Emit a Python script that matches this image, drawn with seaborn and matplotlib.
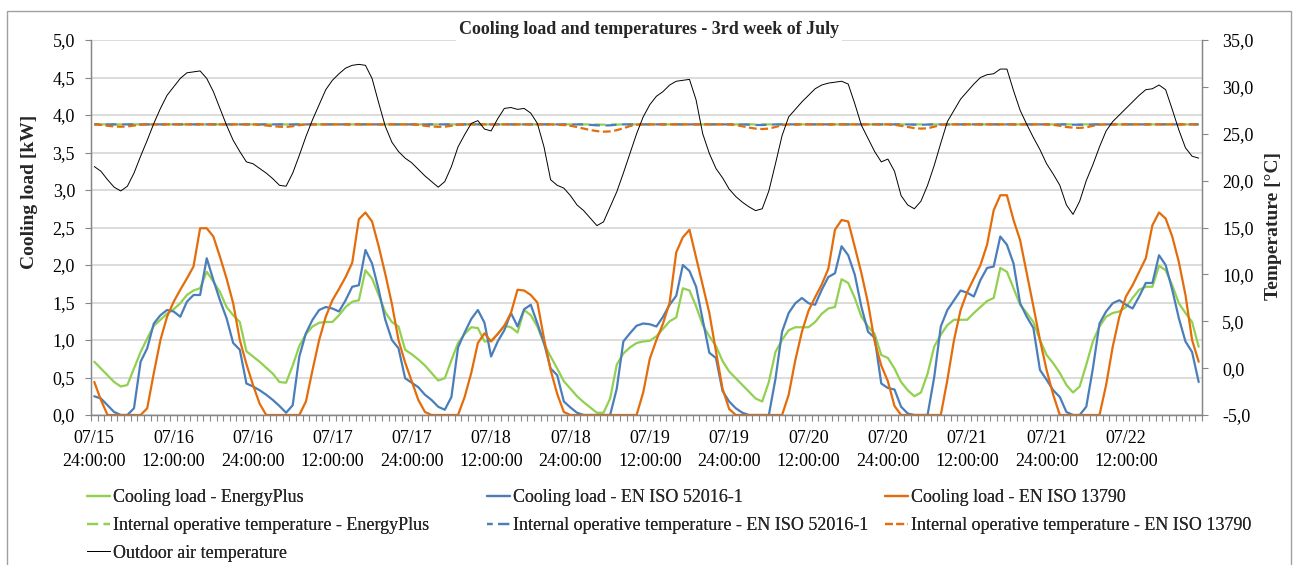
"""
Cooling load and temperatures, 3rd week of July (hourly, 07/15 24:00 .. 07/22 23:00).
Left axis: cooling load [kW], right axis: temperatures [degC].
"""
import matplotlib
matplotlib.use("Agg")
import matplotlib.pyplot as plt
import matplotlib.patches as mpatches
from matplotlib.ticker import FixedLocator, FuncFormatter
import numpy as np
import seaborn as sns

# hour index 0..167, one row of 24 values per day
hours = np.arange(168)

load_eplus = [
    0.71, 0.62, 0.53, 0.44, 0.38, 0.40, 0.62, 0.84, 1.02, 1.19, 1.27, 1.35, 1.41, 1.49, 1.60, 1.66, 1.69, 1.91, 1.78, 1.64, 1.44, 1.33, 1.24, 0.85,
    0.78, 0.71, 0.63, 0.55, 0.44, 0.43, 0.66, 0.92, 1.08, 1.18, 1.23, 1.24, 1.24, 1.33, 1.44, 1.51, 1.53, 1.93, 1.82, 1.60, 1.37, 1.24, 1.18, 0.87,
    0.81, 0.74, 0.66, 0.56, 0.46, 0.49, 0.73, 0.96, 1.08, 1.17, 1.16, 0.98, 0.99, 1.08, 1.19, 1.17, 1.10, 1.40, 1.33, 1.18, 0.95, 0.78, 0.62, 0.45,
    0.35, 0.25, 0.17, 0.10, 0.03, 0.03, 0.22, 0.67, 0.82, 0.90, 0.96, 0.98, 0.99, 1.05, 1.15, 1.25, 1.30, 1.69, 1.66, 1.45, 1.20, 1.05, 0.92, 0.72,
    0.58, 0.49, 0.40, 0.31, 0.22, 0.18, 0.44, 0.84, 1.00, 1.13, 1.17, 1.17, 1.17, 1.24, 1.35, 1.42, 1.44, 1.81, 1.76, 1.56, 1.31, 1.18, 1.08, 0.80,
    0.76, 0.62, 0.44, 0.33, 0.25, 0.30, 0.55, 0.91, 1.07, 1.20, 1.27, 1.27, 1.27, 1.36, 1.44, 1.52, 1.56, 1.96, 1.91, 1.69, 1.47, 1.36, 1.24, 1.00,
    0.80, 0.69, 0.56, 0.40, 0.30, 0.38, 0.67, 0.98, 1.18, 1.31, 1.36, 1.38, 1.44, 1.56, 1.67, 1.71, 1.71, 1.99, 1.93, 1.73, 1.49, 1.36, 1.24, 0.91,
]

load_52016 = [
    0.25, 0.22, 0.13, 0.04, 0.00, 0.00, 0.09, 0.71, 0.89, 1.22, 1.33, 1.40, 1.38, 1.31, 1.51, 1.60, 1.60, 2.09, 1.80, 1.53, 1.29, 0.96, 0.87, 0.42,
    0.38, 0.33, 0.27, 0.20, 0.12, 0.03, 0.13, 0.78, 1.09, 1.27, 1.40, 1.44, 1.42, 1.38, 1.53, 1.71, 1.73, 2.20, 2.02, 1.67, 1.27, 1.00, 0.89, 0.49,
    0.43, 0.37, 0.27, 0.20, 0.11, 0.07, 0.24, 0.90, 1.10, 1.28, 1.40, 1.23, 0.78, 0.98, 1.13, 1.36, 1.18, 1.41, 1.47, 1.22, 0.96, 0.62, 0.53, 0.18,
    0.10, 0.03, 0.00, 0.00, 0.00, 0.00, 0.00, 0.35, 0.98, 1.09, 1.19, 1.22, 1.21, 1.18, 1.31, 1.47, 1.59, 2.00, 1.92, 1.71, 1.27, 0.83, 0.76, 0.32,
    0.18, 0.09, 0.03, 0.00, 0.00, 0.00, 0.00, 0.48, 1.11, 1.36, 1.49, 1.56, 1.49, 1.47, 1.67, 1.84, 1.89, 2.25, 2.13, 1.87, 1.44, 1.11, 1.03, 0.42,
    0.36, 0.34, 0.11, 0.02, 0.00, 0.00, 0.00, 0.50, 1.18, 1.40, 1.53, 1.66, 1.63, 1.58, 1.80, 1.96, 1.98, 2.38, 2.27, 2.02, 1.49, 1.31, 1.16, 0.60,
    0.47, 0.33, 0.24, 0.04, 0.00, 0.00, 0.11, 0.62, 1.22, 1.38, 1.49, 1.53, 1.47, 1.42, 1.58, 1.76, 1.76, 2.13, 2.00, 1.67, 1.29, 0.98, 0.84, 0.44,
]

load_13790 = [
    0.44, 0.20, 0.00, 0.00, 0.00, 0.00, 0.00, 0.00, 0.09, 0.56, 1.00, 1.31, 1.51, 1.67, 1.82, 1.98, 2.49, 2.49, 2.38, 2.11, 1.82, 1.49, 1.00, 0.68,
    0.40, 0.15, 0.00, 0.00, 0.00, 0.00, 0.00, 0.00, 0.18, 0.60, 1.00, 1.31, 1.53, 1.68, 1.84, 2.03, 2.61, 2.70, 2.58, 2.25, 1.88, 1.48, 1.00, 0.70,
    0.45, 0.20, 0.04, 0.00, 0.00, 0.00, 0.00, 0.00, 0.24, 0.56, 0.96, 1.09, 0.98, 1.08, 1.19, 1.36, 1.67, 1.66, 1.60, 1.50, 1.02, 0.60, 0.28, 0.04,
    0.00, 0.00, 0.00, 0.00, 0.00, 0.00, 0.00, 0.00, 0.00, 0.00, 0.00, 0.30, 0.75, 1.00, 1.22, 1.50, 2.17, 2.37, 2.47, 2.10, 1.73, 1.36, 0.85, 0.35,
    0.08, 0.00, 0.00, 0.00, 0.00, 0.00, 0.00, 0.00, 0.00, 0.27, 0.73, 1.11, 1.39, 1.57, 1.74, 1.95, 2.47, 2.60, 2.58, 2.24, 1.89, 1.49, 0.98, 0.66,
    0.45, 0.12, 0.00, 0.00, 0.00, 0.00, 0.00, 0.00, 0.00, 0.47, 1.00, 1.40, 1.64, 1.82, 2.00, 2.27, 2.73, 2.93, 2.93, 2.60, 2.33, 1.89, 1.45, 1.00,
    0.60, 0.27, 0.00, 0.00, 0.00, 0.00, 0.00, 0.00, 0.00, 0.40, 0.91, 1.31, 1.58, 1.73, 1.91, 2.09, 2.53, 2.70, 2.62, 2.38, 2.04, 1.60, 1.00, 0.71,
]

t_op_eplus = [
    26.0, 26.0, 26.0, 26.0, 26.0, 26.0, 26.0, 26.0, 26.0, 26.0, 26.0, 26.0, 26.0, 26.0, 26.0, 26.0, 26.0, 26.0, 26.0, 26.0, 26.0, 26.0, 26.0, 26.0,
    26.0, 26.0, 26.0, 26.0, 26.0, 26.0, 26.0, 26.0, 26.0, 26.0, 26.0, 26.0, 26.0, 26.0, 26.0, 26.0, 26.0, 26.0, 26.0, 26.0, 26.0, 26.0, 26.0, 26.0,
    26.0, 26.0, 26.0, 26.0, 26.0, 26.0, 26.0, 26.0, 26.0, 26.0, 26.0, 26.0, 26.0, 26.0, 26.0, 26.0, 26.0, 26.0, 26.0, 26.0, 26.0, 26.0, 26.0, 26.0,
    26.0, 26.0, 26.0, 26.0, 25.98, 25.97, 25.98, 26.0, 26.0, 26.0, 26.0, 26.0, 26.0, 26.0, 26.0, 26.0, 26.0, 26.0, 26.0, 26.0, 26.0, 26.0, 26.0, 26.0,
    26.0, 26.0, 26.0, 26.0, 26.0, 26.0, 26.0, 26.0, 26.0, 26.0, 26.0, 26.0, 26.0, 26.0, 26.0, 26.0, 26.0, 26.0, 26.0, 26.0, 26.0, 26.0, 26.0, 26.0,
    26.0, 26.0, 26.0, 26.0, 26.0, 26.0, 26.0, 26.0, 26.0, 26.0, 26.0, 26.0, 26.0, 26.0, 26.0, 26.0, 26.0, 26.0, 26.0, 26.0, 26.0, 26.0, 26.0, 26.0,
    26.0, 26.0, 26.0, 26.0, 26.0, 26.0, 26.0, 26.0, 26.0, 26.0, 26.0, 26.0, 26.0, 26.0, 26.0, 26.0, 26.0, 26.0, 26.0, 26.0, 26.0, 26.0, 26.0, 26.0,
]

t_op_52016 = [
    26.0, 26.0, 26.0, 26.0, 26.0, 26.0, 26.0, 26.0, 26.0, 26.0, 26.0, 26.0, 26.0, 26.0, 26.0, 26.0, 26.0, 26.0, 26.0, 26.0, 26.0, 26.0, 26.0, 26.0,
    26.0, 26.0, 26.0, 26.0, 26.0, 26.0, 26.0, 26.0, 26.0, 26.0, 26.0, 26.0, 26.0, 26.0, 26.0, 26.0, 26.0, 26.0, 26.0, 26.0, 26.0, 26.0, 26.0, 26.0,
    26.0, 26.0, 26.0, 26.0, 26.0, 26.0, 26.0, 26.0, 26.0, 26.0, 26.0, 26.0, 26.0, 26.0, 26.0, 26.0, 26.0, 26.0, 26.0, 26.0, 26.0, 26.0, 26.0, 26.0,
    26.0, 26.0, 26.0, 25.95, 25.9, 25.88, 25.9, 25.96, 26.0, 26.0, 26.0, 26.0, 26.0, 26.0, 26.0, 26.0, 26.0, 26.0, 26.0, 26.0, 26.0, 26.0, 26.0, 26.0,
    26.0, 26.0, 26.0, 25.97, 25.94, 25.93, 25.96, 26.0, 26.0, 26.0, 26.0, 26.0, 26.0, 26.0, 26.0, 26.0, 26.0, 26.0, 26.0, 26.0, 26.0, 26.0, 26.0, 26.0,
    26.0, 26.0, 26.0, 26.0, 25.97, 25.96, 25.98, 26.0, 26.0, 26.0, 26.0, 26.0, 26.0, 26.0, 26.0, 26.0, 26.0, 26.0, 26.0, 26.0, 26.0, 26.0, 26.0, 26.0,
    26.0, 26.0, 26.0, 26.0, 25.97, 25.96, 25.98, 26.0, 26.0, 26.0, 26.0, 26.0, 26.0, 26.0, 26.0, 26.0, 26.0, 26.0, 26.0, 26.0, 26.0, 26.0, 26.0, 26.0,
]

t_op_13790 = [
    26.0, 25.95, 25.85, 25.78, 25.75, 25.78, 25.88, 25.97, 26.0, 26.0, 26.0, 26.0, 26.0, 26.0, 26.0, 26.0, 26.0, 26.0, 26.0, 26.0, 26.0, 26.0, 26.0, 26.0,
    26.0, 25.95, 25.88, 25.8, 25.75, 25.73, 25.8, 25.92, 26.0, 26.0, 26.0, 26.0, 26.0, 26.0, 26.0, 26.0, 26.0, 26.0, 26.0, 26.0, 26.0, 26.0, 26.0, 26.0,
    26.0, 25.95, 25.85, 25.78, 25.74, 25.75, 25.85, 25.95, 26.0, 26.0, 26.0, 26.0, 26.0, 26.0, 26.0, 26.0, 26.0, 26.0, 26.0, 26.0, 26.0, 26.0, 25.97, 25.93,
    25.85, 25.72, 25.55, 25.4, 25.28, 25.22, 25.25, 25.38, 25.58, 25.82, 25.97, 26.0, 26.0, 26.0, 26.0, 26.0, 26.0, 26.0, 26.0, 26.0, 26.0, 26.0, 26.0, 26.0,
    26.0, 25.93, 25.8, 25.65, 25.55, 25.5, 25.55, 25.72, 25.92, 26.0, 26.0, 26.0, 26.0, 26.0, 26.0, 26.0, 26.0, 26.0, 26.0, 26.0, 26.0, 26.0, 26.0, 26.0,
    26.0, 25.95, 25.85, 25.72, 25.6, 25.55, 25.58, 25.75, 25.95, 26.0, 26.0, 26.0, 26.0, 26.0, 26.0, 26.0, 26.0, 26.0, 26.0, 26.0, 26.0, 26.0, 26.0, 26.0,
    26.0, 25.95, 25.85, 25.72, 25.65, 25.62, 25.68, 25.85, 25.97, 26.0, 26.0, 26.0, 26.0, 26.0, 26.0, 26.0, 26.0, 26.0, 26.0, 26.0, 26.0, 26.0, 26.0, 26.0,
]

t_outdoor = [
    21.5, 21.0, 20.1, 19.3, 18.9, 19.4, 20.8, 22.6, 24.3, 26.1, 27.7, 29.1, 30.0, 30.9, 31.5, 31.6, 31.7, 30.9, 29.5, 27.7, 25.9, 24.3, 23.1, 22.0,
    21.8, 21.3, 20.8, 20.2, 19.5, 19.4, 20.8, 22.7, 24.7, 26.5, 28.1, 29.7, 30.7, 31.4, 32.0, 32.3, 32.4, 32.3, 30.9, 28.3, 25.8, 24.1, 23.1, 22.4,
    21.9, 21.2, 20.5, 19.9, 19.3, 19.9, 21.5, 23.6, 24.9, 26.1, 26.4, 25.5, 25.3, 26.6, 27.7, 27.8, 27.6, 27.7, 27.2, 26.1, 23.6, 20.1, 19.5, 19.2,
    18.4, 17.4, 16.8, 16.0, 15.2, 15.6, 17.2, 18.8, 20.8, 22.9, 25.0, 26.8, 28.1, 29.0, 29.5, 30.2, 30.6, 30.7, 30.8, 28.6, 25.0, 22.9, 21.3, 20.3,
    19.1, 18.3, 17.7, 17.2, 16.8, 17.0, 18.9, 21.8, 24.8, 26.8, 27.6, 28.4, 29.1, 29.8, 30.2, 30.4, 30.5, 30.6, 30.3, 28.2, 25.9, 24.5, 23.1, 22.0,
    22.3, 21.0, 18.4, 17.4, 17.0, 17.8, 19.5, 21.6, 24.0, 26.3, 27.5, 28.7, 29.5, 30.3, 31.0, 31.3, 31.4, 31.9, 31.9, 29.6, 27.5, 26.0, 24.6, 23.3,
    21.8, 20.7, 19.5, 17.4, 16.4, 17.8, 20.0, 21.7, 23.6, 25.3, 26.3, 27.0, 27.7, 28.4, 29.1, 29.7, 29.8, 30.2, 29.7, 27.6, 25.4, 23.5, 22.6, 22.4,
]

tick_hours = [0, 12, 24, 36, 48, 60, 72, 84, 96, 108, 120, 132, 144, 156]
tick_labels = [
    "07/15\n24:00:00", "07/16\n12:00:00", "07/16\n24:00:00", "07/17\n12:00:00",
    "07/17\n24:00:00", "07/18\n12:00:00", "07/18\n24:00:00", "07/19\n12:00:00",
    "07/19\n24:00:00", "07/20\n12:00:00", "07/20\n24:00:00", "07/21\n12:00:00",
    "07/21\n24:00:00", "07/22\n12:00:00",
]

GREEN = "#92D050"
BLUE = "#4A7EBB"
ORANGE = "#E46C0A"
AXIS_GREY = "#868686"
FS = 13

sns.set_theme(style="white")
plt.rcParams["font.family"] = ["Liberation Serif", "DejaVu Serif"]


def comma(v, _pos):
    return f"{v:.1f}".replace(".", ",")


def main():
    W, H = 1293, 565
    fig = plt.figure(figsize=(W / 100, H / 100), dpi=100)
    L, R, T, B = 91, 1202, 40, 415
    ax = fig.add_axes([L / W, 1 - B / H, (R - L) / W, (B - T) / H])
    ax2 = ax.twinx()

    # chart-area border
    fig.patches.append(mpatches.Rectangle((7 / W, -0.01), (1291 - 7) / W, 1.01 - 11 / H,
                                          transform=fig.transFigure, fill=False,
                                          edgecolor="#A0A0A0", lw=1.0))

    lw = 1.6
    sns.lineplot(x=hours, y=load_eplus, ax=ax, color=GREEN, lw=lw,
                 label="Cooling load - EnergyPlus", legend=False)
    sns.lineplot(x=hours, y=load_52016, ax=ax, color=BLUE, lw=lw,
                 label="Cooling load - EN ISO 52016-1", legend=False)
    sns.lineplot(x=hours, y=load_13790, ax=ax, color=ORANGE, lw=lw,
                 label="Cooling load - EN ISO 13790", legend=False)

    sns.lineplot(x=hours, y=t_op_eplus, ax=ax2, color=GREEN, lw=lw, linestyle=(0, (5, 2.5)),
                 label="Internal operative temperature - EnergyPlus", legend=False)
    sns.lineplot(x=hours, y=t_op_52016, ax=ax2, color=BLUE, lw=lw, linestyle=(2.5, (5, 2.5)),
                 label="Internal operative temperature - EN ISO 52016-1", legend=False)
    sns.lineplot(x=hours, y=t_op_13790, ax=ax2, color=ORANGE, lw=lw, linestyle=(0, (3.5, 1.6)),
                 label="Internal operative temperature - EN ISO 13790", legend=False)
    sns.lineplot(x=hours, y=t_outdoor, ax=ax2, color="black", lw=0.7,
                 label="Outdoor air temperature", legend=False)

    # axes ranges and ticks
    ax.set_xlim(-0.5, 167.5)
    ax.set_ylim(0, 5)
    ax2.set_ylim(-5, 35)
    ax.set_yticks(np.arange(0, 5.01, 0.5))
    ax2.set_yticks(np.arange(-5, 35.01, 5))
    ax.yaxis.set_major_formatter(FuncFormatter(comma))
    ax2.yaxis.set_major_formatter(FuncFormatter(comma))

    ax.xaxis.set_major_locator(FixedLocator(tick_hours))
    ax.set_xticklabels(tick_labels, fontsize=FS, linespacing=1.45)
    ax.xaxis.set_minor_locator(FixedLocator(np.arange(-0.5, 168, 1.0)))
    ax.tick_params(axis="x", which="major", length=0, pad=11, colors="black")
    ax.tick_params(axis="x", which="minor", bottom=True, length=4.5, width=0.8, color=AXIS_GREY)
    ax.tick_params(axis="y", which="major", left=True, length=4.5, width=0.8, color=AXIS_GREY,
                   pad=7, labelsize=FS, labelcolor="black")
    ax2.tick_params(axis="y", which="major", right=True, length=4.5, width=0.8, color=AXIS_GREY,
                    pad=10, labelsize=FS, labelcolor="black")
    ax.set_xlabel("")

    ax.grid(axis="y", color="#D9D9D9", lw=1.3)
    ax.grid(axis="x", visible=False)
    ax2.grid(False)
    for a in (ax, ax2):
        a.spines["top"].set_visible(False)
        for s in ("left", "right", "bottom"):
            a.spines[s].set_color(AXIS_GREY)
            a.spines[s].set_linewidth(0.9)

    ax.set_ylabel("Cooling load [kW]", fontsize=14, fontweight="bold")
    ax.yaxis.set_label_coords((38 - L) / (R - L), (B - 192) / (B - T))
    ax2.set_ylabel("Temperature [°C]", fontsize=14, fontweight="bold", rotation=90)
    ax2.yaxis.set_label_coords((1265 - L) / (R - L), (B - 226) / (B - T))

    fig.text(649 / W, 1 - 30 / H, "Cooling load and temperatures - 3rd week of July",
             ha="center", va="center", fontsize=13, fontweight="bold",
             bbox=dict(facecolor="white", edgecolor="none", pad=2), zorder=10)

    # legend: three columns placed like the original
    lines = {l.get_label(): l for l in ax.get_lines() + ax2.get_lines()}
    columns = [
        (87, ["Cooling load - EnergyPlus",
              "Internal operative temperature - EnergyPlus",
              "Outdoor air temperature"]),
        (487, ["Cooling load - EN ISO 52016-1",
               "Internal operative temperature - EN ISO 52016-1"]),
        (885, ["Cooling load - EN ISO 13790",
               "Internal operative temperature - EN ISO 13790"]),
    ]
    for x0, names in columns:
        leg = fig.legend([lines[n] for n in names], names, loc="upper left",
                         bbox_to_anchor=(x0 / W, 1 - 489 / H), frameon=False,
                         fontsize=FS, handlelength=1.3, handletextpad=0.15,
                         borderpad=0, borderaxespad=0, labelspacing=0.6)
        fig.add_artist(leg)

    fig.savefig("out.png", dpi=100)


if __name__ == "__main__":
    main()
